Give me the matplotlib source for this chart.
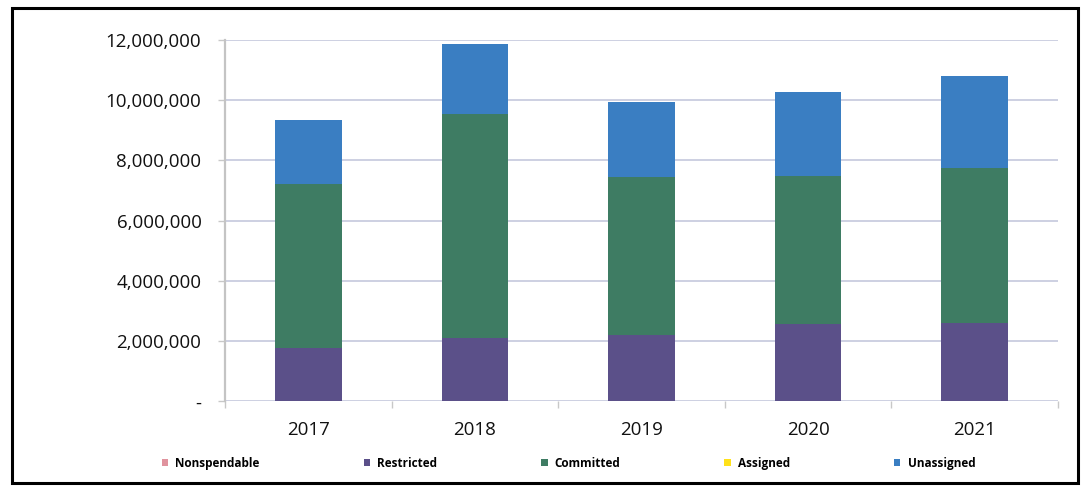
import numpy as np
import matplotlib as mpl
import matplotlib.pyplot as plt
from matplotlib.patches import Patch, Rectangle
from matplotlib.ticker import FuncFormatter
mpl.use('Agg')

# fund balance by component, per fiscal year
years = ['2017', '2018', '2019', '2020', '2021']
nonspendable = [0, 0, 0, 0, 0]
restricted = [1760000, 2120000, 2200000, 2560000, 2600000]
committed = [5470000, 7410000, 5250000, 4920000, 5160000]
assigned = [0, 0, 0, 0, 0]
unassigned = [2130000, 2350000, 2500000, 2800000, 3040000]

series = [
    ('Nonspendable', nonspendable, '#E0939E'),
    ('Restricted', restricted, '#5B5089'),
    ('Committed', committed, '#3E7C63'),
    ('Assigned', assigned, '#FFE11A'),
    ('Unassigned', unassigned, '#3A7EC2'),
]

plt.rcParams['font.family'] = ['Open Sans', 'DejaVu Sans']

fig = plt.figure(figsize=(10.87, 4.86), dpi=100)
ax = fig.add_axes([0.207, 0.174, 0.7663, 0.7437])

x = np.arange(len(years))
bottom = np.zeros(len(years))
for name, vals, color in series:
    vals = np.array(vals, dtype=float)
    ax.bar(x, vals, width=0.4, bottom=bottom, color=color, label=name, zorder=3)
    bottom += vals

ax.set_xlim(-0.5, len(years) - 0.5)
ax.set_ylim(0, 12000000)
ax.set_yticks(np.arange(0, 12000001, 2000000))
ax.yaxis.set_major_formatter(FuncFormatter(lambda v, p: '-' if v == 0 else '{:,.0f}'.format(v)))
ax.grid(axis='y', color='#CDD0E2', linewidth=1.4, zorder=0)

ax.set_xticks(x)
ax.set_xticklabels(years)
ax.set_xticks(np.arange(-0.5, len(years), 1.0), minor=True)
ax.tick_params(axis='x', which='major', length=0, pad=14, labelsize=13.5, labelcolor='#111111')
ax.tick_params(axis='x', which='minor', length=5, color='#C8C8C8', width=1)
ax.tick_params(axis='y', length=5, color='#C8C8C8', width=1, pad=12, labelsize=13.5, labelcolor='#111111')

for s in ['top', 'right', 'bottom']:
    ax.spines[s].set_visible(False)
ax.spines['left'].set_color('#C4C4C4')
ax.spines['left'].set_linewidth(1.6)

handles = [Patch(facecolor=c, edgecolor='none', label=n) for n, v, c in series]
fig.legend(handles=handles, loc='center', bbox_to_anchor=(0.523, 1 - 463 / 486), ncol=5,
           frameon=False, handlelength=0.55, handleheight=0.55, handletextpad=0.6,
           columnspacing=8.8, prop={'size': 8.5, 'weight': 'bold'})

# outer frame
fig.patches.append(Rectangle((12 / 1087, 1 - 483 / 486), 1066 / 1087, 475 / 486,
                             transform=fig.transFigure, fill=False,
                             edgecolor='black', linewidth=2.2))

plt.savefig('out.png', dpi=100)
